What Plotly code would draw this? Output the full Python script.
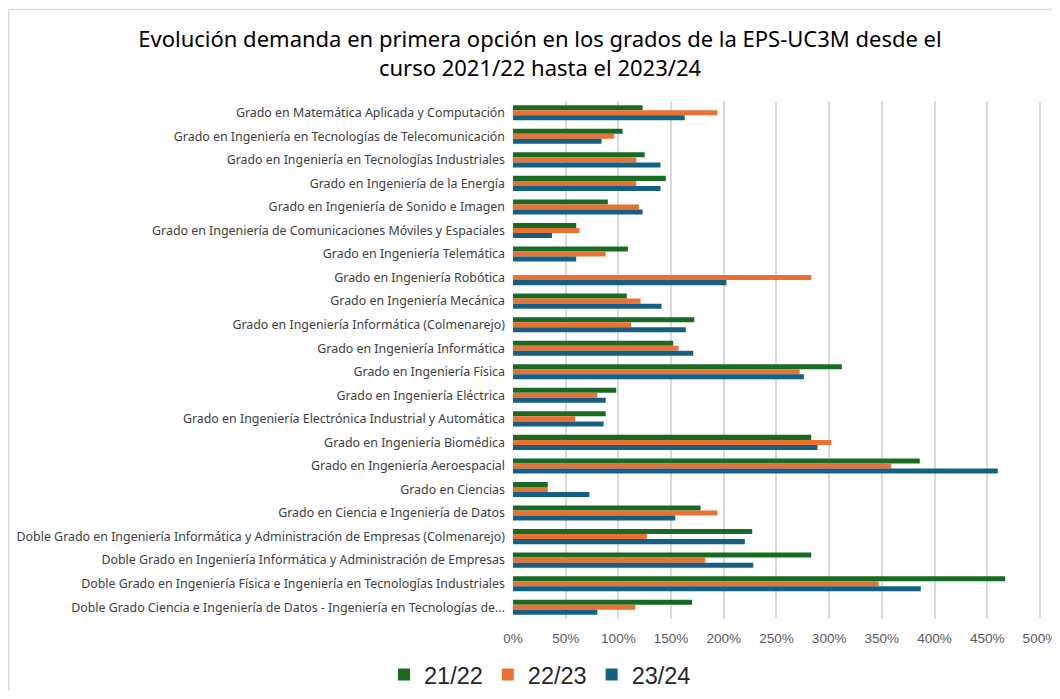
import plotly.graph_objects as go

categories = [
    "Grado en Matemática Aplicada y Computación",
    "Grado en Ingeniería en Tecnologías de Telecomunicación",
    "Grado en Ingeniería en Tecnologías Industriales",
    "Grado en Ingeniería de la Energía",
    "Grado en Ingeniería de Sonido e Imagen",
    "Grado en Ingeniería de Comunicaciones Móviles y Espaciales",
    "Grado en Ingeniería Telemática",
    "Grado en Ingeniería Robótica",
    "Grado en Ingeniería Mecánica",
    "Grado en Ingeniería Informática (Colmenarejo)",
    "Grado en Ingeniería Informática",
    "Grado en Ingeniería Física",
    "Grado en Ingeniería Eléctrica",
    "Grado en Ingeniería Electrónica Industrial y Automática",
    "Grado en Ingeniería Biomédica",
    "Grado en Ingeniería Aeroespacial",
    "Grado en Ciencias",
    "Grado en Ciencia e Ingeniería de Datos",
    "Doble Grado en Ingeniería Informática y Administración de Empresas (Colmenarejo)",
    "Doble Grado en Ingeniería Informática y Administración de Empresas",
    "Doble Grado en Ingeniería Física e Ingeniería en Tecnologías Industriales",
    "Doble Grado Ciencia e Ingeniería de Datos - Ingeniería en Tecnologías de...",
]

s2122 = [1.23, 1.04, 1.25, 1.45, 0.90, 0.60, 1.09, None, 1.08, 1.72, 1.52, 3.12,
         0.98, 0.88, 2.83, 3.86, 0.33, 1.78, 2.27, 2.83, 4.67, 1.70]
s2223 = [1.94, 0.96, 1.17, 1.17, 1.195, 0.63, 0.88, 2.83, 1.21, 1.12, 1.57, 2.72,
         0.80, 0.59, 3.02, 3.59, 0.33, 1.94, 1.27, 1.825, 3.47, 1.16]
s2324 = [1.63, 0.84, 1.40, 1.40, 1.23, 0.37, 0.60, 2.025, 1.41, 1.64, 1.71, 2.76,
         0.88, 0.86, 2.89, 4.60, 0.725, 1.54, 2.20, 2.28, 3.87, 0.80]

series = [("21/22", s2122, "#196B24"), ("22/23", s2223, "#E97132"), ("23/24", s2324, "#156082")]

tick_vals = [0, 0.5, 1, 1.5, 2, 2.5, 3, 3.5, 4, 4.5, 5]
tick_text = ["0%", "50%", "100%", "150%", "200%", "250%", "300%", "350%", "400%", "450%", "500%"]

fig = go.Figure()
for name, vals, color in series:
    fig.add_trace(go.Bar(
        y=categories, x=vals, name=name, orientation="h",
        marker=dict(color=color, line=dict(width=0)),
    ))

# page body has an 8px margin; figure coordinates are offset by 8px
W, H = 1052, 683
ml, mt = 505, 93
pw, ph = 529, 518
mr, mb = W - ml - pw, H - mt - ph


def px(fx):
    return (fx - ml) / pw


def py(fy):
    return (mt + ph - fy) / ph


border = dict(color="#d9d9d9", width=1.5)

fig.update_layout(
    width=W, height=H,
    margin=dict(l=ml, r=mr, t=mt, b=mb, autoexpand=False),
    barmode="group", bargap=0.36, bargroupgap=0,
    plot_bgcolor="white", paper_bgcolor="white",
    font=dict(family="Noto Sans", color="#404040", size=12),
    title=dict(
        text="Evolución demanda en primera opción en los grados de la EPS-UC3M desde el<br>curso 2021/22 hasta el 2023/24",
        x=532 / W, xanchor="center", y=1 - 39 / H, yanchor="top",
        font=dict(size=22, color="#000000", family="Noto Sans"),
    ),
    legend=dict(
        orientation="h", x=px(532), xanchor="center", y=-0.065, yanchor="top",
        font=dict(size=23.5, color="#262626", family="Liberation Sans"), itemwidth=30,
    ),
    xaxis=dict(
        range=[0, 5.02], tickvals=tick_vals, ticktext=tick_text,
        showgrid=True, gridcolor="#d9d9d9", gridwidth=1.5,
        zeroline=False, showline=False, ticks="",
        tickfont=dict(size=13.5, color="#595959", family="Liberation Sans"),
        ticklabelstandoff=9,
    ),
    yaxis=dict(
        autorange="reversed", showgrid=False, showline=False, ticks="",
        tickfont=dict(size=12.4, color="#404040"), ticklabelstandoff=7,
        automargin=False,
    ),
    shapes=[
        dict(type="line", xref="paper", yref="paper",
             x0=px(0.75), x1=px(0.75), y0=py(H + 10), y1=py(1.5), line=border),
        dict(type="line", xref="paper", yref="paper",
             x0=px(0.75), x1=px(W + 10), y0=py(1.5), y1=py(1.5), line=border),
    ],
)

fig.write_html("out.html")
